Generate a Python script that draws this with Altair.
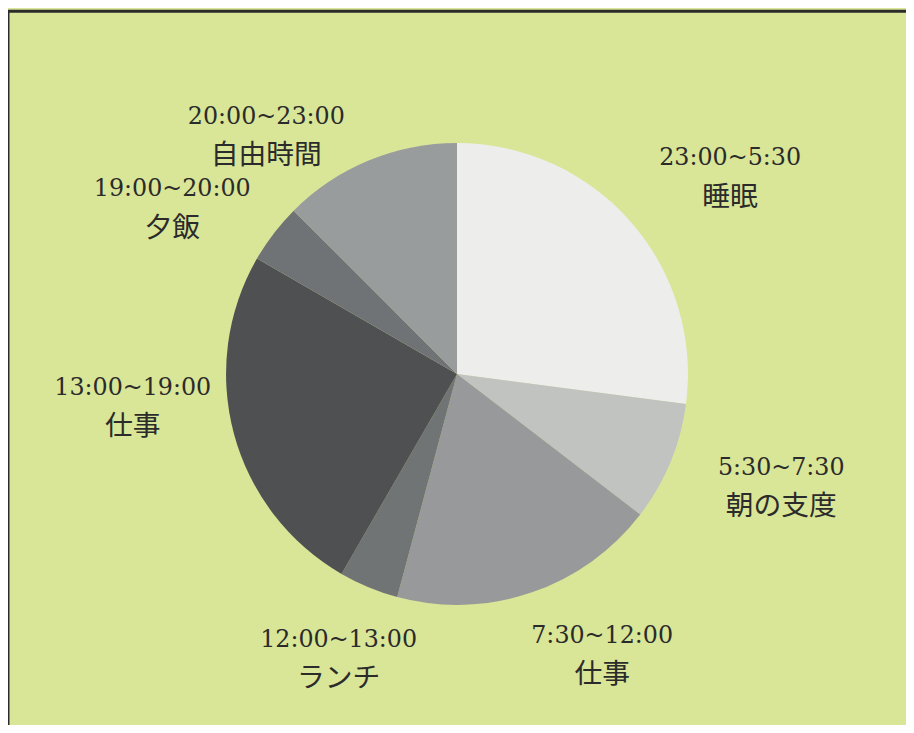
import math
import altair as alt
import pandas as pd

# --- data ---
times = ["23:00~5:30", "5:30~7:30", "7:30~12:00", "12:00~13:00",
         "13:00~19:00", "19:00~20:00", "20:00~23:00"]
names = ["睡眠", "朝の支度", "仕事", "ランチ", "仕事", "夕飯", "自由時間"]
hours = [6.5, 2, 4.5, 1, 6, 1, 3]

# --- styles ---
slice_colors = ["#edeeec", "#c1c3c1", "#98999a", "#717475",
                "#4f5052", "#707375", "#999c9d"]
bg = "#d9e597"
ink = "#2b2b2b"

df = pd.DataFrame({"time": times, "name": names, "hours": hours,
                   "idx": list(range(len(times)))})

W, H = 906, 702
PIE_R = 233

pie = alt.Chart(df).mark_arc(outerRadius=PIE_R, stroke=None).encode(
    theta=alt.Theta("hours:Q", stack=True),
    order=alt.Order("idx:Q", sort="ascending"),
    color=alt.Color("time:N", scale=alt.Scale(domain=times, range=slice_colors),
                    legend=None),
)

# label layout: mid-angle of each slice, placed per side group
lbl_base = alt.Chart(df).transform_window(
    cum="sum(hours)", sort=[alt.SortField("idx")], frame=[None, 0]
).transform_calculate(mid="datum.cum - datum.hours / 2")

theta_mid = alt.Theta("mid:Q", scale=alt.Scale(domain=[0, 24], range=[0, 2 * math.pi]))

# (filter, radius, dx, dy) for right, bottom and left groups
groups = [
    ("datum.idx <= 2", 300, 50, 0),
    ("datum.idx == 3", 312, 0, 0),
    ("datum.idx >= 4", 231, -104, -26),
]

label_layers = []
for flt, r, dx, dy in groups:
    g = lbl_base.transform_filter(flt).encode(theta=theta_mid)
    label_layers.append(
        g.mark_text(radius=r, dx=dx, dy=dy - 20, font="DejaVu Serif",
                    fontSize=24, color=ink).encode(text="time:N"))
    label_layers.append(
        g.mark_text(radius=r, dx=dx, dy=dy + 20, font="Noto Sans CJK JP",
                    fontSize=28, color=ink).encode(text="name:N"))

frame_src = alt.Chart(pd.DataFrame({"k": [0]}))
top_rule = frame_src.mark_rule(color=ink, strokeWidth=3).encode(
    x=alt.value(0), x2=alt.value(W), y=alt.value(-15))
left_rule = frame_src.mark_rule(color=ink, strokeWidth=3).encode(
    x=alt.value(0), y=alt.value(-15), y2=alt.value(H + 10))

chart = alt.layer(pie, *label_layers, top_rule, left_rule).resolve_scale(
    theta="independent"
).properties(
    width=W, height=H,
    background=bg,
    padding={"top": 15, "left": 0, "right": 0, "bottom": 0},
    autosize=alt.AutoSizeParams(type="none"),
).configure_view(stroke=None)

chart.save("out.html", embed_options={"renderer": "svg", "actions": False})
